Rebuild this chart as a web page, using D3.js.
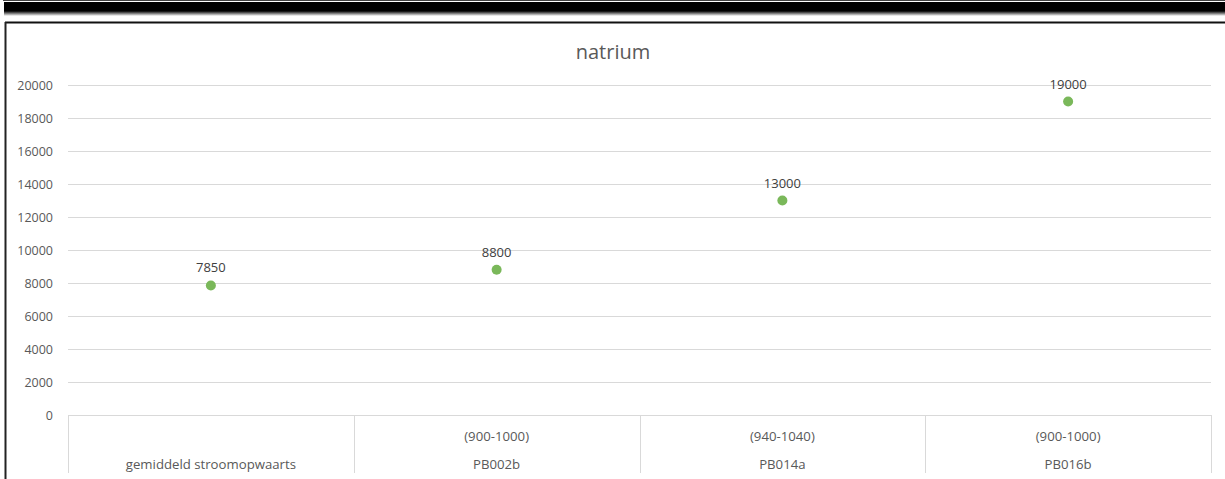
<!DOCTYPE html>
<html><head><meta charset="utf-8">
<script src="https://cdn.jsdelivr.net/npm/d3@7"></script>
<style>
html,body{margin:0;padding:0;background:#fff;overflow:hidden;}
svg{display:block;}
</style>
</head><body>
<svg id="c" width="1225" height="479"></svg>
<script>
const categories = ["gemiddeld stroomopwaarts", "PB002b", "PB014a", "PB016b"];
const subLabels = ["", "(900-1000)", "(940-1040)", "(900-1000)"];
const values = [7850, 8800, 13000, 19000];
const yTicks = [0, 2000, 4000, 6000, 8000, 10000, 12000, 14000, 16000, 18000, 20000];
const title = "natrium";

const svg = d3.select("#c");
const W = 1225, H = 479;
const font = "'Open Sans', 'Liberation Sans', sans-serif";

// outer decoration: black bar at top with shadow, frame
const defs = svg.append("defs");
const g1 = defs.append("linearGradient").attr("id","sh").attr("x1",0).attr("y1",0).attr("x2",0).attr("y2",1);
g1.append("stop").attr("offset","0").attr("stop-color","#000");
g1.append("stop").attr("offset","1").attr("stop-color","#fff");
svg.append("rect").attr("x",3).attr("y",0).attr("width",W-3).attr("height",1).attr("fill","#444");
svg.append("rect").attr("x",4).attr("y",2).attr("width",W-4).attr("height",10).attr("fill","#000");
svg.append("rect").attr("x",4).attr("y",11).attr("width",W-4).attr("height",5).attr("fill","url(#sh)");
svg.append("line").attr("x1",5).attr("x2",W).attr("y1",22.5).attr("y2",22.5).attr("stroke","#111").attr("stroke-width",2);
svg.append("line").attr("x1",5.5).attr("x2",5.5).attr("y1",22).attr("y2",H).attr("stroke","#222").attr("stroke-width",2);

const x = d3.scaleBand().domain(categories).range([68, 1211]).padding(0);
const y = d3.scaleLinear().domain([0, 20000]).range([415, 85]);

// gridlines
svg.append("g").selectAll("line").data(yTicks).join("line")
  .attr("x1",68).attr("x2",1211)
  .attr("y1",d=>Math.round(y(d))+0.5).attr("y2",d=>Math.round(y(d))+0.5)
  .attr("stroke","#d9d9d9").attr("stroke-width",1);

// y axis labels
const yAxis = d3.axisLeft(y).tickValues(yTicks).tickFormat(d3.format("d")).tickSize(0).tickPadding(0);
const ya = svg.append("g").attr("transform","translate(53,0)").call(yAxis);
ya.select(".domain").remove();
ya.selectAll("text").attr("fill","#595959").style("font-family",font).style("font-size","12.5px");

// category box lines
const bounds = categories.map(c=>x(c)).concat([x.range()[1]]);
svg.append("g").selectAll("line").data(bounds).join("line")
  .attr("x1",d=>Math.round(d)+0.5).attr("x2",d=>Math.round(d)+0.5)
  .attr("y1",415).attr("y2",473)
  .attr("stroke","#d9d9d9").attr("stroke-width",1);

// category labels
const cx = d => x(d) + x.bandwidth()/2;
svg.append("g").selectAll("text").data(categories).join("text")
  .attr("x",d=>cx(d)).attr("y",469).attr("text-anchor","middle")
  .attr("fill","#595959").style("font-family",font).style("font-size","13.2px")
  .text(d=>d);
svg.append("g").selectAll("text").data(categories).join("text")
  .attr("x",d=>cx(d)).attr("y",441).attr("text-anchor","middle")
  .attr("fill","#595959").style("font-family",font).style("font-size","13.2px")
  .text((d,i)=>subLabels[i]);

// points
svg.append("g").selectAll("circle").data(values).join("circle")
  .attr("cx",(d,i)=>cx(categories[i])).attr("cy",d=>y(d)).attr("r",5)
  .attr("fill","#7ab85a");

// data labels
svg.append("g").selectAll("text").data(values).join("text")
  .attr("x",(d,i)=>cx(categories[i])).attr("y",d=>y(d)-13).attr("text-anchor","middle")
  .attr("fill","#404040").style("font-family",font).style("font-size","13px")
  .text(d=>d);

// title
svg.append("text").attr("x",613).attr("y",59).attr("text-anchor","middle")
  .attr("fill","#595959").style("font-family",font).style("font-size","20px")
  .text(title);
</script>
</body></html>
